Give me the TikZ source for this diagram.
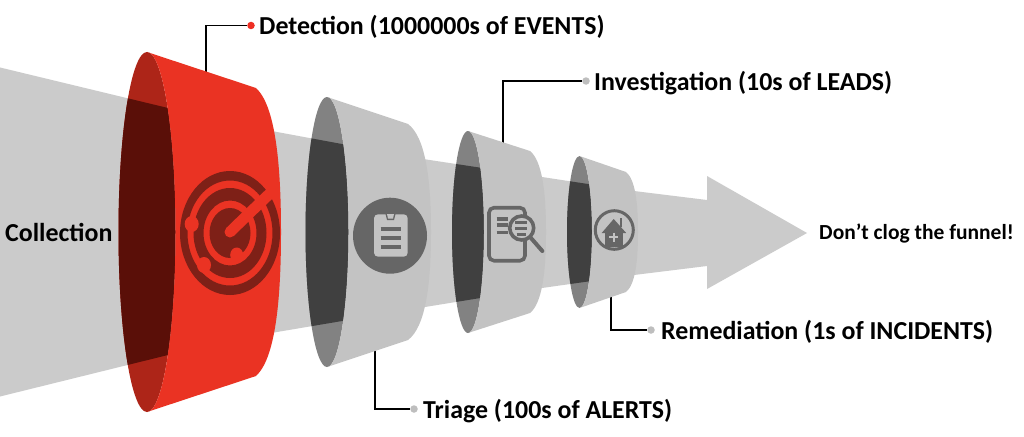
\documentclass[tikz,border=0pt]{standalone}
\usepackage{fontspec}
\setmainfont{Carlito}
\usetikzlibrary{calc}
\definecolor{bandgrey}{HTML}{CBCBCB}
\definecolor{bodygrey}{HTML}{C3C3C3}
\definecolor{ringgrey}{HTML}{828282}
\definecolor{holegrey}{HTML}{404040}
\definecolor{icongrey}{HTML}{666666}
\definecolor{redbody}{HTML}{EA3323}
\definecolor{redring}{HTML}{AD2518}
\definecolor{redhole}{HTML}{5A0F08}
\definecolor{reddark}{HTML}{7E2017}
\definecolor{dotgrey}{HTML}{BEBEBE}
\definecolor{dotred}{HTML}{EE2F24}
\newcommand\bandshape{(-2,67) -- (168,108) -- (277,132) -- (423,159) -- (542,177) -- (634,191) -- (707,200) -- (707,176) -- (807,233) -- (707,289) -- (707,266) -- (634,275) -- (542,288) -- (425,307) -- (277,332) -- (168,355) -- (-2,397) -- cycle}
% cx, rx, ry, shoulder x, shoulder dy, extreme x, ring, body, hole
\newcommand\funnelshape[9]{%
  \pgfmathsetmacro\fdx{#6-#4}\pgfmathsetmacro\ftop{232-#5}\pgfmathsetmacro\fbot{232+#5}%
  \fill[#7] (#1,232) ellipse[x radius=#2,y radius=#3];
  \begin{scope}
    \clip (#1,232) ellipse[x radius=#2,y radius=#3];
    \fill[#9] \bandshape;
  \end{scope}
  \fill[#8] (#1,232-#3) -- (#4,\ftop)
    .. controls ({#4+.75*\fdx},{\ftop+.12*#5}) and (#6,{\ftop+.5*#5}) .. (#6,232)
    .. controls (#6,{\fbot-.5*#5}) and ({#4+.75*\fdx},{\fbot-.12*#5}) .. (#4,\fbot)
    -- (#1,232+#3)
    .. controls ({#1+.5523*#2},{232+#3}) and ({#1+#2},{232+.5523*#3}) .. (#1+#2,232)
    .. controls ({#1+#2},{232-.5523*#3}) and ({#1+.5523*#2},{232-#3}) .. (#1,232-#3) -- cycle;
}
\tikzset{
  x=1pt,y=-1pt,
  label text/.style={font=\bfseries\fontsize{25.9}{28}\selectfont,anchor=base west,inner sep=0pt,text=black},
  small text/.style={font=\bfseries\fontsize{21.5}{24}\selectfont,anchor=base west,inner sep=0pt,text=black},
  leader/.style={draw=black,line width=1.6pt,line join=miter},
  dot/.style={circle,inner sep=0pt,minimum size=7.5pt},
  ico/.style={icongrey},
}
\begin{document}
\begin{tikzpicture}
\useasboundingbox (0,0) rectangle (1024,436);
\fill[white] (0,0) rectangle (1024,436);
\clip (0,0) rectangle (1024,436);
\fill[bandgrey] \bandshape;

% leaders underneath the funnels
\coordinate (detStart) at (206,80);
\coordinate (invStart) at (503,150);
\coordinate (triStart) at (375,340);
\coordinate (remStart) at (611,290);
\node[dot,fill=dotred] (detDot) at (251,25.5) {};
\node[dot,fill=dotgrey] (invDot) at (586,81) {};
\node[dot,fill=dotgrey] (triDot) at (414,409) {};
\node[dot,fill=dotgrey] (remDot) at (651,330) {};
\draw[leader] (detStart) |- (detDot);
\draw[leader] (invStart) |- (invDot);
\draw[leader] (triStart) |- (triDot);
\draw[leader] (remStart) |- (remDot);

% funnels
\funnelshape{147}{28.5}{180}{256}{144}{281}{redring}{redbody}{redhole}
\funnelshape{327}{21.5}{135}{408}{108}{431}{ringgrey}{bodygrey}{holegrey}
\funnelshape{468}{16}{101}{530}{81}{546}{ringgrey}{bodygrey}{holegrey}
\funnelshape{579.5}{12.5}{76}{626}{60}{638}{ringgrey}{bodygrey}{holegrey}

% radar icon
\begin{scope}
  \fill[reddark,even odd rule] (230,233) ellipse[x radius=50,y radius=62] (230,233) ellipse[x radius=42.5,y radius=52.5]
     (230,233) ellipse[x radius=36.5,y radius=45] (230,233) ellipse[x radius=26.5,y radius=32.5];
  \fill[reddark] (230,233) ellipse[x radius=20.5,y radius=25];
  \draw[redbody,line width=11pt,line cap=round] (230,232) -- (248,214.5);
  \draw[redbody,line width=11pt] (248,214.5) -- (274,189.5);
  \fill[redbody] (191.7,224) ellipse[x radius=7,y radius=8];
  \fill[redbody] (204,265) ellipse[x radius=7,y radius=8];
  \fill[redbody] (236.7,255) ellipse[x radius=6.5,y radius=7.5];
\end{scope}

% clipboard icon
\fill[ico] (390,235.7) ellipse[x radius=37,y radius=38];
\fill[bodygrey,rounded corners=4pt] (374,214.3) rectangle (407.7,256.7);
\fill[ico] (385.5,214) -- (395.5,214) -- (394,220) -- (387,220) -- cycle;
\fill[bodygrey] (387,214) -- (394,214) -- (393,218.5) -- (388,218.5) -- cycle;
\foreach \ly in {229.3,237.7,246.7}
  \draw[ico,line width=4pt] (380.7,\ly) -- (401,\ly);

% document and lens icon
\draw[ico,line width=3.6pt,rounded corners=5pt] (489,207.7) rectangle (525,260.7);
\foreach \ly in {219,225,232.7}
  \draw[ico,line width=3.3pt] (496.7,\ly) -- (508,\ly);
\fill[bodygrey] (521.7,228) circle[radius=12];
\draw[ico,line width=3.6pt] (521.7,228) circle[radius=12];
\draw[ico,line width=4pt,line cap=round] (530.5,237.5) -- (542.3,251);
\foreach \ly in {222.3,228.3}
  \draw[ico,line width=2.6pt] (515,\ly) -- (527,\ly);
\draw[ico,line width=2.6pt] (516.5,234.3) -- (525.5,234.3);

% house icon
\draw[ico,line width=3pt] (614.3,230) ellipse[x radius=19,y radius=19.3];
\fill[ico] (620,218) rectangle (622.4,227);
\fill[ico] (613.7,219) -- (626.2,233) -- (622.8,233) -- (622.8,247) -- (605.2,247) -- (605.2,233) -- (601.7,233) -- cycle;
\draw[bodygrey,line width=1.8pt] (609,237.3) -- (618.4,237.3) (613.7,232.6) -- (613.7,242);

% labels
\node[label text] (det) at (259,34.5) {Detection (1000000s of EVENTS)};
\node[label text] (inv) at (594,90) {Investigation (10s of LEADS)};
\node[label text] (tri) at (423,418) {Triage (100s of ALERTS)};
\node[label text] (rem) at (661,339) {Remediation (1s of INCIDENTS)};
\node[label text] (col) at (5,241) {Collection};
\node[small text] (don) at (819,239.5) {Don’t clog the funnel!};
\end{tikzpicture}
\end{document}
